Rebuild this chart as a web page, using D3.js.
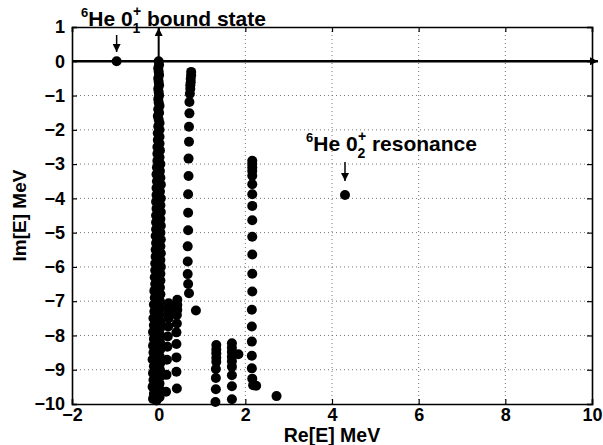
<!DOCTYPE html>
<html><head><meta charset="utf-8">
<script src="https://cdn.jsdelivr.net/npm/d3@7"></script>
<style>
body{margin:0;background:#fff;}
text{font-family:"Liberation Sans",Arial,Helvetica,sans-serif;font-weight:bold;fill:#000;}
</style></head>
<body><svg id="c" width="603" height="445"></svg>
<script>
// ---- data ----
const xTicks = [-2, 0, 2, 4, 6, 8, 10];
const yTicks = [1, 0, -1, -2, -3, -4, -5, -6, -7, -8, -9, -10];
const boundState = [[-0.97, 0]];
const resonance = [[4.3, -3.9]];
// dense continuum branch near Re=0
const branch0 = [[0.00,0.0],[0.01,-0.1],[-0.01,-0.2],[0.00,-0.3],[0.01,-0.4],[-0.01,-0.5],[0.00,-0.6],[0.01,-0.7],[-0.01,-0.8],[0.00,-0.9],
[0.01,-1.0],[-0.01,-1.1],[0.00,-1.2],[0.02,-1.3],[-0.01,-1.4],[0.01,-1.5],[-0.02,-1.6],[0.00,-1.7],[0.02,-1.8],[-0.01,-1.9],
[0.02,-2.0],[-0.02,-2.1],[0.02,-2.2],[-0.02,-2.3],[0.02,-2.4],[-0.03,-2.5],[0.03,-2.6],[-0.03,-2.7],[0.02,-2.8],[-0.03,-2.9],
[0.04,-3.0],[-0.04,-3.1],[0.03,-3.2],[-0.05,-3.3],[0.04,-3.4],[-0.04,-3.5],[0.05,-3.6],[-0.05,-3.7],[0.03,-3.8],[-0.05,-3.9],
[0.05,-4.0],[-0.06,-4.1],[0.04,-4.2],[-0.05,-4.3],[0.05,-4.4],[-0.06,-4.5],[0.04,-4.6],[-0.06,-4.7],[0.05,-4.8],[-0.06,-4.9],
[0.04,-5.0],[-0.07,-5.1],[0.05,-5.2],[-0.06,-5.3],[0.04,-5.4],[-0.07,-5.5],[0.05,-5.6],[-0.07,-5.7],[0.04,-5.8],[-0.08,-5.9],
[0.05,-6.0],[-0.08,-6.1],[0.04,-6.2],[-0.09,-6.3],[0.04,-6.4],[-0.08,-6.5],[0.03,-6.6],[-0.1,-6.7],[0.04,-6.8],[-0.09,-6.9],
[0.03,-7.0],[-0.11,-7.1],[0.04,-7.2],[-0.1,-7.3],[0.02,-7.4],[-0.12,-7.5],[0.04,-7.6],[-0.11,-7.7],[0.03,-7.8],[-0.13,-7.9],
[0.04,-8.0],[-0.11,-8.1],[0.03,-8.2],[-0.13,-8.3],[0.04,-8.4],[-0.12,-8.5],[0.02,-8.6],[-0.14,-8.7],[0.04,-8.8],[-0.11,-8.9],
[0.03,-9.0],[-0.13,-9.1],[0.04,-9.2],[-0.12,-9.3],[0.02,-9.4],[-0.14,-9.5],[0.04,-9.6],[-0.11,-9.7],[0.02,-9.8],[-0.13,-9.85]];
const branch0b = [[0.00,-2.55],[0.00,-2.95],[-0.01,-3.35],[0.00,-3.75],[-0.01,-4.15],[0.00,-4.55],[-0.01,-4.95],[0.00,-5.35],[-0.02,-5.75],
[-0.03,-6.05],[-0.03,-6.45],[-0.05,-6.85],[-0.04,-7.25],[-0.05,-7.65],[-0.04,-8.05],[-0.06,-8.45],[-0.04,-8.85],[-0.05,-9.25],[-0.04,-9.65],[-0.05,-9.9]];
// branch near Re=0.7
const branch1 = [[0.75,-0.31],[0.75,-0.41],[0.74,-0.51],[0.74,-0.61],[0.73,-0.70],[0.73,-0.80],[0.72,-0.95],[0.71,-1.19],[0.71,-1.52],[0.70,-1.91],[0.70,-2.35],[0.69,-2.84],[0.69,-3.35],[0.68,-3.88],[0.68,-4.42],[0.68,-4.93],[0.67,-5.40],[0.67,-5.84],[0.67,-6.21],[0.68,-6.50],[0.70,-6.77],[0.86,-7.27]];
// two close branches near Re=0.2-0.4
const branch2 = [[0.23,-7.06],[0.23,-7.21],[0.23,-7.35],[0.23,-7.50],[0.22,-7.74],[0.21,-8.03],[0.20,-8.33],[0.19,-8.71],[0.18,-9.15],[0.17,-9.64]];
const branch3 = [[0.43,-6.96],[0.43,-7.11],[0.43,-7.25],[0.42,-7.40],[0.42,-7.65],[0.41,-7.91],[0.41,-8.25],[0.41,-8.64],[0.41,-9.06],[0.42,-9.55]];
// branches near Re=1.3 and 1.7
const branch4 = [[1.33,-8.28],[1.33,-8.41],[1.33,-8.52],[1.33,-8.65],[1.33,-8.77],[1.32,-8.98],[1.32,-9.24],[1.32,-9.57],[1.31,-9.94]];
const branch5 = [[1.69,-8.23],[1.69,-8.36],[1.69,-8.48],[1.69,-8.62],[1.69,-8.75],[1.69,-8.91],[1.69,-9.16],[1.69,-9.48],[1.69,-9.86],[1.84,-8.55]];
// branch near Re=2.2
const branch6 = [[2.16,-2.90],[2.16,-3.00],[2.16,-3.10],[2.16,-3.20],[2.16,-3.34],[2.16,-3.59],[2.16,-3.88],[2.16,-4.22],[2.16,-4.64],[2.16,-5.12],[2.16,-5.64],[2.16,-6.20],[2.16,-6.72],[2.15,-7.25],[2.15,-7.74],[2.15,-8.18],[2.15,-8.59],[2.15,-8.96],[2.16,-9.26],[2.18,-9.45],[2.25,-9.47],[2.72,-9.77]];

// ---- chart ----
const svg = d3.select("#c");
const L = 72, R = 592, T = 27, B = 404;
const x = d3.scaleLinear().domain([-2, 10]).range([L, R]);
const y = d3.scaleLinear().domain([-10, 1]).range([B, T]);

// grid
const g = svg.append("g");
g.selectAll(".gx").data(xTicks.slice(1, -1)).join("line")
  .attr("x1", d => x(d)).attr("x2", d => x(d)).attr("y1", T).attr("y2", B)
  .attr("stroke", "#777").attr("stroke-width", 1).attr("stroke-dasharray", "1,3");
g.selectAll(".gy").data(yTicks.slice(1, -1)).join("line")
  .attr("y1", d => y(d)).attr("y2", d => y(d)).attr("x1", L).attr("x2", R)
  .attr("stroke", "#777").attr("stroke-width", 1).attr("stroke-dasharray", "1,3");

// axes (frame with inward ticks)
const fmt = d => d < 0 ? "\u2212" + Math.abs(d) : d;
const axB = d3.axisBottom(x).tickValues(xTicks).tickSize(-5).tickPadding(4).tickFormat(fmt);
const axL = d3.axisLeft(y).tickValues(yTicks).tickSize(-5).tickPadding(7).tickFormat(fmt);
const axT = d3.axisTop(x).tickValues(xTicks).tickSize(-5).tickFormat("");
const axR = d3.axisRight(y).tickValues(yTicks).tickSize(-5).tickFormat("");
function styleAx(sel){
  sel.attr("font-family", null).attr("font-size", null);
  sel.selectAll("path").attr("stroke", "#000").attr("stroke-width", 1.6);
  sel.selectAll("line").attr("stroke", "#000").attr("stroke-width", 1.2);
  sel.selectAll("text").attr("font-size", 18).attr("fill", "#000");
}
svg.append("g").attr("transform", `translate(0,${B})`).call(axB).call(styleAx);
svg.append("g").attr("transform", `translate(${L},0)`).call(axL).call(styleAx);
svg.append("g").attr("transform", `translate(0,${T})`).call(axT).call(styleAx);
svg.append("g").attr("transform", `translate(${R},0)`).call(axR).call(styleAx);

// axis titles
svg.append("text").attr("x", 332).attr("y", 442).attr("text-anchor", "middle")
  .attr("font-size", 19.5).text("Re[E] MeV");
svg.append("text").attr("transform", `translate(26,${(T + B) / 2}) rotate(-90)`).attr("text-anchor", "middle")
  .attr("font-size", 19).text("Im[E] MeV");

// arrow marker
const defs = svg.append("defs");
defs.append("marker").attr("id", "ah2").attr("viewBox", "0 0 10 10").attr("refX", 10).attr("refY", 5)
  .attr("markerWidth", 12).attr("markerHeight", 8).attr("markerUnits", "userSpaceOnUse").attr("orient", "auto")
  .append("path").attr("d", "M0,0 L10,5 L0,10 z").attr("fill", "#000");

// real axis (thick) with arrow, imaginary axis arrow
svg.append("line").attr("x1", L).attr("x2", 598).attr("y1", y(0)).attr("y2", y(0))
  .attr("stroke", "#000").attr("stroke-width", 2.5).attr("marker-end", "url(#ah2)");
svg.append("line").attr("x1", x(0)).attr("x2", x(0)).attr("y1", y(0)).attr("y2", y(1) + 1)
  .attr("stroke", "#000").attr("stroke-width", 2).attr("marker-end", "url(#ah2)");

// points
const all = [].concat(boundState, resonance, branch0, branch0b, branch1, branch2, branch3, branch4, branch5, branch6);
svg.append("g").selectAll("circle").data(all).join("circle")
  .attr("cx", d => x(d[0])).attr("cy", d => y(d[1])).attr("r", 5).attr("fill", "#000");

// annotation arrows
svg.append("line").attr("x1", x(boundState[0][0])).attr("x2", x(boundState[0][0])).attr("y1", 35).attr("y2", 52)
  .attr("stroke", "#000").attr("stroke-width", 1.5).attr("marker-end", "url(#ah2)");
svg.append("line").attr("x1", x(resonance[0][0])).attr("x2", x(resonance[0][0])).attr("y1", 162).attr("y2", 181)
  .attr("stroke", "#000").attr("stroke-width", 1.5).attr("marker-end", "url(#ah2)");

// labels
function label(x0, base, sub, rest){
  const t = svg.append("text").attr("x", x0).attr("y", base).attr("font-size", 21);
  t.append("tspan").attr("font-size", 13).attr("dy", -9).text("6");
  t.append("tspan").attr("dy", 9).text("He 0");
  t.append("tspan").attr("font-size", 14).attr("dy", 7).text(sub);
  t.append("tspan").attr("font-size", 14).attr("dx", -7.5).attr("dy", -17).text("+");
  t.append("tspan").attr("dy", 10).text(rest);
}
label(81, 26, "1", " bound state");
label(306, 151, "2", " resonance");
</script></body></html>
